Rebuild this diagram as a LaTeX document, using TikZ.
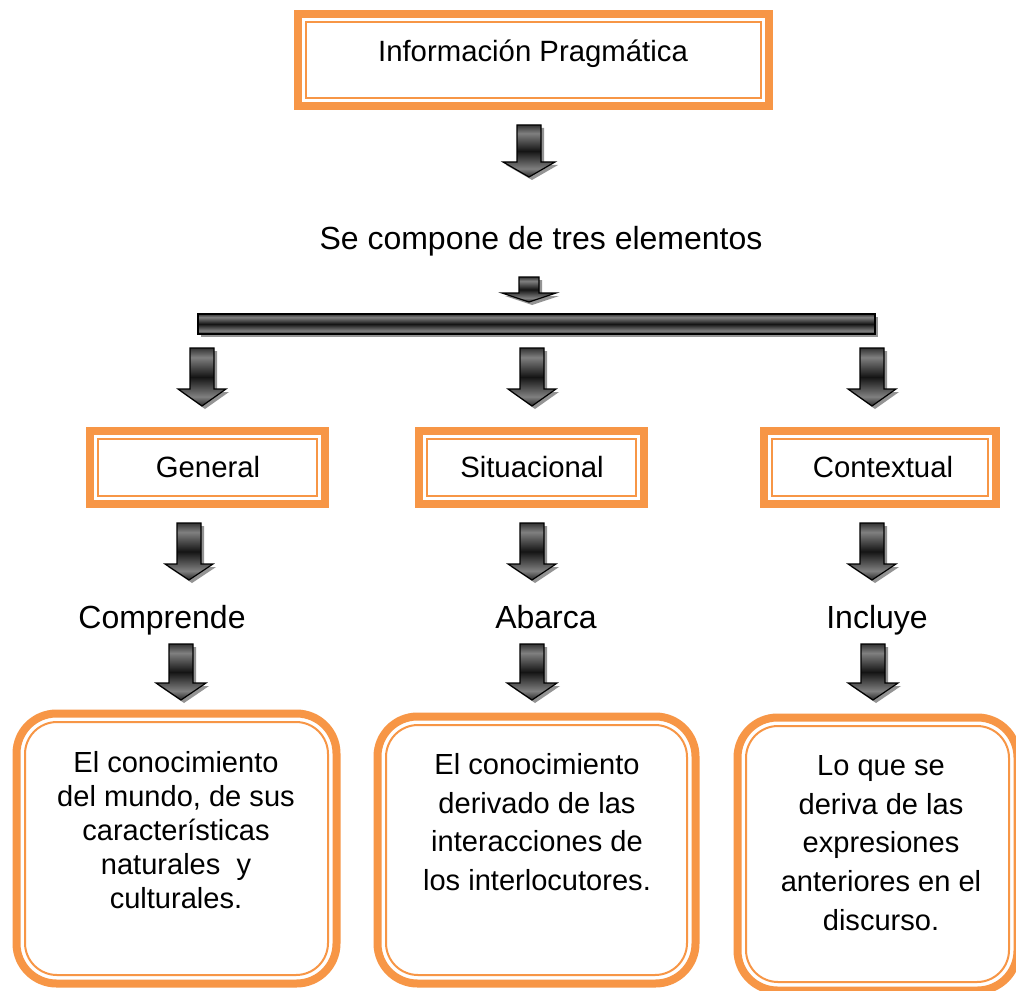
\documentclass[tikz,border=0pt]{standalone}
\usepackage{fontspec}
\setmainfont{Liberation Sans}
\definecolor{orng}{RGB}{247,150,70}
\pgfdeclareverticalshading{metal}{100bp}{color(0bp)=(black); color(25bp)=(black!85); color(33bp)=(black!50); color(50bp)=(black!92); color(67bp)=(black!50); color(75bp)=(black!80); color(100bp)=(black!80)}
\tikzset{
  outerband/.style={draw=orng, line width=6pt},
  innerline/.style={draw=orng, line width=1.5pt},
  metalfill/.style={shading=metal, draw=black, line width=0.9pt},
  shadowfill/.style={fill=black!42},
  lbl/.style={anchor=base, inner sep=0pt},
  boxtext/.style={align=center, inner sep=0pt},
}
\newcommand{\dblrect}[4]{%
  \draw[outerband] ({#1+4},{#2+4}) rectangle ({#3-4},{#4-4});
  \draw[innerline] ({#1+12},{#2+12}) rectangle ({#3-12},{#4-12});
}
\newcommand{\dblround}[4]{%
  \draw[outerband, rounded corners=30pt] ({#1+4.5},{#2+4.5}) rectangle ({#3-4.5},{#4-4.5});
  \draw[innerline, rounded corners=24pt] ({#1+13},{#2+13}) rectangle ({#3-13},{#4-13});
}
% cx, top, headtop, tip, shaft half width, head half width
\newcommand{\blkarrow}[6]{%
  \fill[shadowfill] ({#1-#5+3},{#2+3}) -- ({#1+#5+3},{#2+3}) -- ({#1+#5+3},{#3+3}) -- ({#1+#6+3},{#3+3}) -- ({#1+3},{#4+3}) -- ({#1-#6+3},{#3+3}) -- ({#1-#5+3},{#3+3}) -- cycle;
  \draw[metalfill] ({#1-#5},{#2}) -- ({#1+#5},{#2}) -- ({#1+#5},{#3}) -- ({#1+#6},{#3}) -- ({#1},{#4}) -- ({#1-#6},{#3}) -- ({#1-#5},{#3}) -- cycle;
}
\begin{document}
\begin{tikzpicture}[x=0.75pt,y=-0.75pt]
\useasboundingbox (0,0) rectangle (1016,991);
\fill[white] (0,0) rectangle (1016,991);

% boxes
\dblrect{294}{10}{773}{110}
\dblrect{86}{427}{329}{508}
\dblrect{415}{427}{648}{508}
\dblrect{760}{427}{1000}{508}
\dblround{12}{709}{341}{988}
\dblround{373}{712}{700}{988}
\dblround{733}{713}{1022}{995}

% texts
\node[lbl, font=\fontsize{22}{26}\selectfont] (info) at (533,62) {Información Pragmática};
\node[lbl, font=\fontsize{24}{28}\selectfont] (compone) at (541,249) {Se compone de tres elementos};
\node[lbl, font=\fontsize{22}{26}\selectfont] (gen) at (208,477) {General};
\node[lbl, font=\fontsize{22}{26}\selectfont] (sit) at (532,477) {Situacional};
\node[lbl, font=\fontsize{22}{26}\selectfont] (ctx) at (883,477) {Contextual};
\node[lbl, font=\fontsize{24}{28}\selectfont] (comp) at (162,628) {Comprende};
\node[lbl, font=\fontsize{24}{28}\selectfont] (abar) at (546,628) {Abarca};
\node[lbl, font=\fontsize{24}{28}\selectfont] (incl) at (877,628) {Incluye};
\node[boxtext, font=\fontsize{21.8}{25.5}\selectfont] (t1) at (176,830) {El conocimiento\\del mundo, de sus\\características\\naturales\ \ y\\culturales.};
\node[boxtext, font=\fontsize{21.8}{29}\selectfont] (t2) at (537,822) {El conocimiento\\derivado de las\\interacciones de\\los interlocutores.};
\node[boxtext, font=\fontsize{21.8}{29}\selectfont] (t3) at (881,843) {Lo que se\\deriva de las\\expresiones\\anteriores en el\\discurso.};

% arrows
\blkarrow{529}{125}{162}{177}{12}{26}
\blkarrow{529}{277}{293}{302}{10}{27}
% bar
\fill[shadowfill] (201,317) rectangle (878,337);
\draw[metalfill] (198,314) rectangle (875,334);
\blkarrow{202}{348}{389}{406}{12}{24}
\blkarrow{532}{348}{389}{406}{12}{24}
\blkarrow{872}{348}{389}{406}{12}{24}
\blkarrow{189}{523}{564}{580}{12}{24}
\blkarrow{532}{523}{564}{580}{12}{24}
\blkarrow{872}{523}{564}{580}{12}{24}
\blkarrow{181}{644}{683}{700}{12}{25}
\blkarrow{532}{644}{683}{700}{12}{25}
\blkarrow{873}{644}{683}{700}{12}{25}
\end{tikzpicture}
\end{document}
